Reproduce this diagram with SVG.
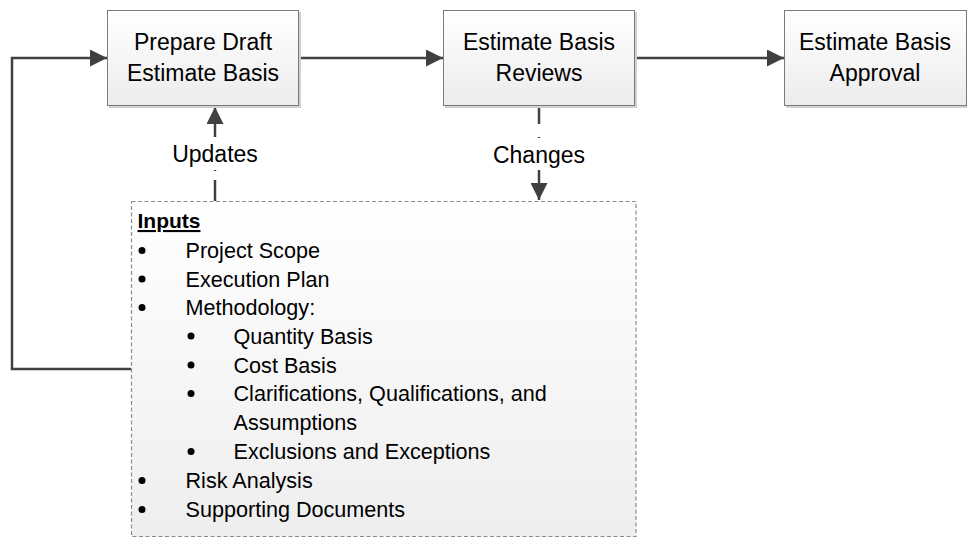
<svg xmlns="http://www.w3.org/2000/svg" width="967" height="538" viewBox="0 0 967 538">
  <defs>
    <linearGradient id="boxFill" x1="0" y1="0" x2="0" y2="1">
      <stop offset="0" stop-color="#ffffff"/>
      <stop offset="1" stop-color="#ececec"/>
    </linearGradient>
    <linearGradient id="inFill" x1="0" y1="0" x2="0" y2="1">
      <stop offset="0" stop-color="#ffffff"/>
      <stop offset="1" stop-color="#eeeeee"/>
    </linearGradient>
    <marker id="arrow" viewBox="0 0 17 17" refX="17" refY="8.5" markerWidth="17" markerHeight="17" markerUnits="userSpaceOnUse" orient="auto">
      <path d="M0,0 L17,8.5 L0,17 Z" fill="#404040"/>
    </marker>
    <style>
      .box { fill: url(#boxFill); stroke: #7a7a7a; stroke-width: 1; }
      .shadow { fill: #d0d0d0; }
      .inbox { fill: url(#inFill); stroke: #8c8c8c; stroke-width: 1.2; stroke-dasharray: 4 2.5; }
      .lbl { font-family: "Liberation Sans", Arial, sans-serif; font-size: 23px; fill: #000; text-anchor: middle; }
      .li { font-family: "Liberation Sans", Arial, sans-serif; font-size: 21.6px; fill: #000; }
      .hd { font-family: "Liberation Sans", Arial, sans-serif; font-size: 21px; font-weight: bold; fill: #000; text-decoration: underline; }
      .conn { fill: none; stroke: #404040; stroke-width: 2.5; }
      .bul { fill: #000; }
    </style>
  </defs>

  <g id="connectors">
    <path class="conn" d="M299,58 L443,58" marker-end="url(#arrow)"/>
    <path class="conn" d="M635,58 L784,58" marker-end="url(#arrow)"/>
    <path class="conn" d="M131,369 L12,369 L12,58 L107,58" marker-end="url(#arrow)"/>
    <path class="conn" d="M215,201 L215,180"/>
    <path class="conn" d="M215,170 L215,171"/>
    <path class="conn" d="M215,137 L215,107" marker-end="url(#arrow)"/>
    <path class="conn" d="M539,106 L539,124"/>
    <path class="conn" d="M539,137 L539,138"/>
    <path class="conn" d="M539,170 L539,200" marker-end="url(#arrow)"/>
    <text class="lbl" x="215" y="162">Updates</text>
    <text class="lbl" x="539" y="163">Changes</text>
  </g>

  <g id="prepare">
    <rect class="shadow" x="109" y="12" width="192" height="96"/>
    <rect class="box" x="107.5" y="10.5" width="191" height="95"/>
    <text class="lbl" x="203" y="50">Prepare Draft</text>
    <text class="lbl" x="203" y="81">Estimate Basis</text>
  </g>

  <g id="reviews">
    <rect class="shadow" x="445" y="12" width="192" height="96"/>
    <rect class="box" x="443.5" y="10.5" width="191" height="95"/>
    <text class="lbl" x="539" y="50">Estimate Basis</text>
    <text class="lbl" x="539" y="81">Reviews</text>
  </g>

  <g id="approval">
    <rect class="shadow" x="786" y="12" width="182" height="96"/>
    <rect class="box" x="784.5" y="10.5" width="182" height="95"/>
    <text class="lbl" x="875" y="50">Estimate Basis</text>
    <text class="lbl" x="875" y="81">Approval</text>
  </g>

  <g id="inputs">
    <rect class="inbox" x="131.5" y="201.5" width="504.5" height="335"/>
    <text class="hd" x="137.5" y="228">Inputs</text>
    <circle class="bul" cx="142" cy="250.5" r="3.5"/>
    <text class="li" x="185.5" y="257.5">Project Scope</text>
    <circle class="bul" cx="142" cy="279" r="3.5"/>
    <text class="li" x="185.5" y="286.5">Execution Plan</text>
    <circle class="bul" cx="142" cy="307.5" r="3.5"/>
    <text class="li" x="185.5" y="315">Methodology:</text>
    <circle class="bul" cx="191" cy="336" r="3.5"/>
    <text class="li" x="233.5" y="343.5">Quantity Basis</text>
    <circle class="bul" cx="191" cy="365" r="3.5"/>
    <text class="li" x="233.5" y="372.5">Cost Basis</text>
    <circle class="bul" cx="191" cy="393.5" r="3.5"/>
    <text class="li" x="233.5" y="401">Clarifications, Qualifications, and</text>
    <text class="li" x="233.5" y="430">Assumptions</text>
    <circle class="bul" cx="191" cy="451.5" r="3.5"/>
    <text class="li" x="233.5" y="459">Exclusions and Exceptions</text>
    <circle class="bul" cx="142" cy="480.5" r="3.5"/>
    <text class="li" x="185.5" y="488">Risk Analysis</text>
    <circle class="bul" cx="142" cy="509.5" r="3.5"/>
    <text class="li" x="185.5" y="517">Supporting Documents</text>
  </g>
</svg>
